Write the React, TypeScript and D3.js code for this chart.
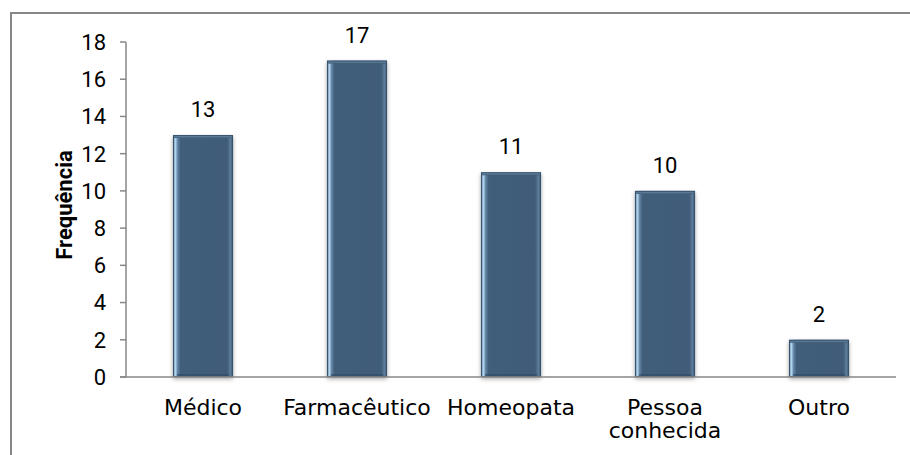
import React from "react";
import * as d3 from "d3";

const categories = ["Médico", "Farmacêutico", "Homeopata", "Pessoa conhecida", "Outro"];
const categoryLines = [["Médico"], ["Farmacêutico"], ["Homeopata"], ["Pessoa", "conhecida"], ["Outro"]];
const values = [13, 17, 11, 10, 2];
const yTicks = [0, 2, 4, 6, 8, 10, 12, 14, 16, 18];
const yTitle = "Frequência";

const W = 910;
const H = 455;
const plot = { left: 126, right: 896, top: 42, bottom: 377 };

export default function App() {
  const x = d3.scaleBand<string>().domain(categories).range([plot.left, plot.right]).paddingInner(0.61).paddingOuter(0.305);
  const y = d3.scaleLinear().domain([0, 18]).range([plot.bottom, plot.top]);
  const bw = x.bandwidth();
  const tickFont = "Roboto, 'Liberation Sans', Arial, sans-serif";
  const catFont = "'DejaVu Sans', Tahoma, sans-serif";

  return (
    <svg width={W} height={H} style={{ position: "absolute", left: 0, top: 0 }}>
      <defs>
        <linearGradient id="barGrad" x1="0" x2="1" y1="0" y2="0">
          <stop offset="0" stopColor="#4f6f8f" />
          <stop offset="0.04" stopColor="#b8d8f0" />
          <stop offset="0.08" stopColor="#5f82a3" />
          <stop offset="0.13" stopColor="#405d79" />
          <stop offset="0.9" stopColor="#3f5c78" />
          <stop offset="0.96" stopColor="#5e7d9b" />
          <stop offset="1" stopColor="#344f69" />
        </linearGradient>
        <linearGradient id="topGrad" x1="0" x2="0" y1="0" y2="1">
          <stop offset="0" stopColor="#7d9ab5" />
          <stop offset="1" stopColor="#405d79" />
        </linearGradient>
        <filter id="shadow" x="-20%" y="-20%" width="140%" height="140%">
          <feDropShadow dx="0" dy="2" stdDeviation="2" floodColor="#000" floodOpacity="0.35" />
        </filter>
      </defs>
      <rect x={11} y={13} width={W} height={H} fill="#fff" stroke="#878787" strokeWidth={2} />
      {/* y axis */}
      <line x1={plot.left} x2={plot.left} y1={plot.top} y2={plot.bottom} stroke="#878787" strokeWidth={1.5} />
      {yTicks.map((t) => (
        <g key={t}>
          <line x1={plot.left - 6} x2={plot.left} y1={y(t)} y2={y(t)} stroke="#878787" strokeWidth={1.5} />
          <text x={106} y={y(t)} dy="0.36em" textAnchor="end" fontFamily={tickFont} fontSize={22} fill="#000">
            {t}
          </text>
        </g>
      ))}
      <text
        transform={`translate(72,205) rotate(-90)`}
        textAnchor="middle"
        fontFamily={tickFont}
        fontWeight="bold"
        fontSize={22}
        fill="#000"
      >
        {yTitle}
      </text>
      {/* bars */}
      {categories.map((c, i) => {
        const x0 = x(c)!;
        const y0 = y(values[i]);
        const h = plot.bottom - y0;
        return (
          <g key={c}>
            <rect x={x0} y={y0} width={bw} height={h} fill="url(#barGrad)" filter="url(#shadow)" />
            <rect x={x0 + 1} y={y0} width={bw - 2} height={3} fill="url(#topGrad)" />
            <rect x={x0 + 4} y={plot.bottom - 3} width={bw - 8} height={3} fill="#2f4860" opacity={0.6} />
            <rect x={x0 + 0.5} y={y0 + 0.5} width={bw - 1} height={h - 1} fill="none" stroke="#38536d" strokeWidth={1} />
            <text x={x0 + bw / 2} y={y0 - 18} textAnchor="middle" fontFamily={tickFont} fontSize={22} fill="#000">
              {values[i]}
            </text>
          </g>
        );
      })}
      {/* x axis */}
      <line x1={plot.left - 6} x2={plot.right} y1={plot.bottom} y2={plot.bottom} stroke="#878787" strokeWidth={1.5} />
      {categories.map((c, i) => (
        <text key={c} x={x(c)! + bw / 2} y={415} textAnchor="middle" fontFamily={catFont} fontSize={22} fill="#000">
          {categoryLines[i].map((ln, j) => (
            <tspan key={j} x={x(c)! + bw / 2} dy={j === 0 ? 0 : 23}>
              {ln}
            </tspan>
          ))}
        </text>
      ))}
    </svg>
  );
}
